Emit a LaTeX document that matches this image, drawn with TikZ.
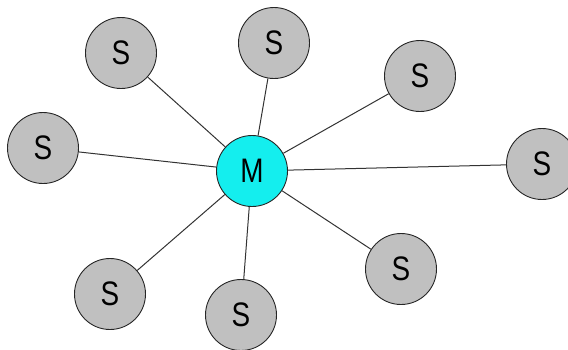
\documentclass[tikz,border=0pt]{standalone}
\usepackage{fontspec}
\setmainfont{Liberation Sans}
\definecolor{mcyan}{RGB}{20,238,238}
\definecolor{sgray}{RGB}{192,192,192}
\newcommand{\lbl}[1]{\scalebox{0.82}[1]{#1}}
\begin{document}
\begin{tikzpicture}[x=1pt,y=-1pt,
  sl/.style={circle,draw=black!85,line width=0.9pt,minimum size=71pt,inner sep=0pt,font=\fontsize{34}{34}\selectfont},
  slave/.style={sl,fill=sgray},
  master/.style={sl,fill=mcyan},
  link/.style={draw=black!80,line width=1pt}]
\useasboundingbox (0,0) rectangle (568,349);
\node[master] (m) at (252,171) {\lbl{M}};
\node[slave] (s1) at (121,53) {\lbl{S}};
\node[slave] (s2) at (274,43) {\lbl{S}};
\node[slave] (s3) at (420,76) {\lbl{S}};
\node[slave] (s4) at (43,148) {\lbl{S}};
\node[slave] (s5) at (542,164) {\lbl{S}};
\node[slave] (s6) at (401,269) {\lbl{S}};
\node[slave] (s7) at (110,294) {\lbl{S}};
\node[slave] (s8) at (241,315) {\lbl{S}};
\foreach \s in {s1,s2,s3,s4,s5,s6,s7,s8}{\draw[link] (m) -- (\s);}
\end{tikzpicture}
\end{document}
